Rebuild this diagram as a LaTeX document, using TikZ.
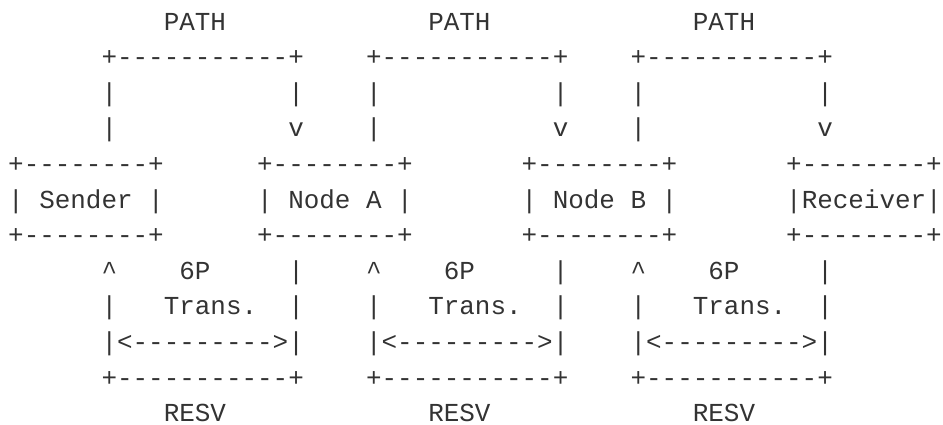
\documentclass[tikz,border=0pt]{standalone}
\usepackage{fontspec}
\setmonofont{Liberation Mono}
\definecolor{ink}{RGB}{51,51,51}
\tikzset{
  asc/.style={anchor=base west, inner sep=0pt, outer sep=0pt, text=ink,
    font=\ttfamily\fontsize{25.93}{26}\selectfont},
}
\begin{document}
\begin{tikzpicture}
\useasboundingbox (0,0) rectangle (943pt,-424pt);
\begin{scope}[shift={(8.2pt,-30pt)}, x=15.56pt, y=-35.6pt]
  % three PATH / RESV loops
  \foreach \g in {0,1,2} {
    \pgfmathtruncatemacro{\b}{6+17*\g}
    \node[asc] (pathlbl\g) at ({\b+4},0) {PATH};
    \node[asc] (ptop\g)    at (\b,1)     {+-----------+};
    \node[asc] (pl2\g)     at (\b,2)     {|};
    \node[asc] (pr2\g)     at ({\b+12},2) {|};
    \node[asc] (pl3\g)     at (\b,3)     {|};
    \node[asc] (pv\g)      at ({\b+12},3) {v};
    \node[asc] (up\g)      at (\b,7)     {\textasciicircum};
    \node[asc] (sixp\g)    at ({\b+5},7) {6P};
    \node[asc] (pr7\g)     at ({\b+12},7) {|};
    \node[asc] (pl8\g)     at (\b,8)     {|};
    \node[asc] (trans\g)   at ({\b+4},8) {Trans.};
    \node[asc] (pr8\g)     at ({\b+12},8) {|};
    \node[asc] (arr\g)     at (\b,9)     {|<--------->|};
    \node[asc] (pbot\g)    at (\b,10)    {+-----------+};
    \node[asc, text depth=0pt] (resv\g) at ({\b+4},11) {RESV};
  }
  % the four boxes
  \foreach \c/\t/\n in {0/{| Sender |}/snd, 16/{| Node A |}/nda, 33/{| Node B |}/ndb, 50/{|Receiver|}/rcv} {
    \node[asc] (\n-top) at (\c,4) {+--------+};
    \node[asc] (\n)     at (\c,5) {\t};
    \node[asc] (\n-bot) at (\c,6) {+--------+};
  }
\end{scope}
\end{tikzpicture}
\end{document}
